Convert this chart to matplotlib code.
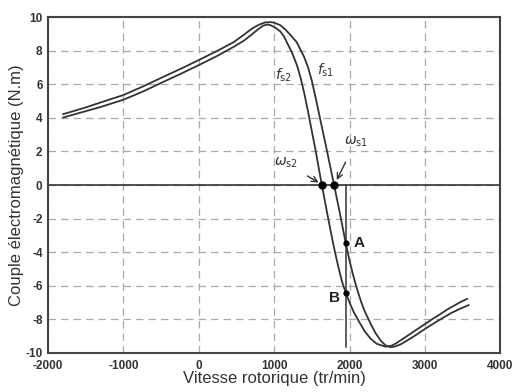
import matplotlib
matplotlib.use("Agg")
import matplotlib.pyplot as plt

plt.rcParams['font.family'] = ['Liberation Sans', 'DejaVu Sans']
plt.rcParams['axes.unicode_minus'] = False

# courbe f_s1 (exterieure)
v_s1 = [-1800, -1500, -1300, -1000, -750, -500, -250, 0, 250, 460, 600, 700, 800, 880,
        950, 1000, 1080, 1150, 1213, 1300, 1350, 1400, 1450, 1500, 1550, 1600, 1700,
        1795, 1875, 1950, 2000, 2050, 2100, 2150, 2200, 2290, 2350, 2420, 2480, 2540,
        2600, 2680, 2750, 2850, 2950, 3050, 3150, 3250, 3350, 3450, 3580]
c_s1 = [4.22, 4.62, 4.92, 5.36, 5.85, 6.38, 6.9, 7.44, 8.0, 8.5, 8.95, 9.3, 9.55, 9.68,
        9.70, 9.66, 9.52, 9.25, 8.95, 8.5, 8.05, 7.6, 7.0, 6.2, 5.2, 4.15, 2.05,
        0.0, -1.75, -3.47, -4.5, -5.4, -6.2, -6.9, -7.5, -8.35, -8.85, -9.3, -9.55, -9.65,
        -9.62, -9.48, -9.3, -9.02, -8.72, -8.43, -8.15, -7.88, -7.62, -7.4, -7.15]

# courbe f_s2 (interieure)
v_s2 = [-1800, -1500, -1300, -1000, -750, -500, -250, 0, 250, 460, 600, 700, 780, 850,
        910, 960, 1020, 1080, 1130, 1168, 1235, 1301, 1350, 1400, 1450, 1500, 1550,
        1600, 1633, 1700, 1750, 1800, 1850, 1900, 1950, 2000, 2060, 2135, 2200, 2280,
        2360, 2474, 2550, 2620, 2700, 2800, 2900, 3000, 3100, 3200, 3300, 3400, 3480, 3560]
c_s2 = [4.02, 4.4, 4.65, 5.08, 5.55, 6.08, 6.6, 7.14, 7.7, 8.22, 8.6, 8.95, 9.25, 9.48,
        9.56, 9.5, 9.35, 9.15, 8.85, 8.5, 7.9, 7.15, 6.4, 5.45, 4.35, 3.2, 2.05,
        0.8, 0.0, -1.6, -2.75, -3.85, -4.85, -5.75, -6.41, -7.0, -7.6, -8.2, -8.7, -9.15,
        -9.45, -9.62, -9.58, -9.42, -9.18, -8.88, -8.58, -8.28, -7.98, -7.7, -7.4, -7.15, -6.95, -6.78]

w_s = [1633, 1795]          # vitesses de synchronisme
v_AB = 1950
c_A, c_B = -3.47, -6.41

x_ticks = [-2000, -1000, 0, 1000, 2000, 3000, 4000]
y_ticks = [-10, -8, -6, -4, -2, 0, 2, 4, 6, 8, 10]

fig = plt.figure(figsize=(5.12, 3.92), dpi=100)
ax = fig.add_axes([0.094, 0.0995, 0.883, 0.857])

col = '#333333'
ax.plot(v_s1, c_s1, color=col, lw=1.3)
ax.plot(v_s2, c_s2, color=col, lw=1.3)
ax.axhline(0, color=col, lw=1.2)
ax.plot([v_AB, v_AB], [0, -9.65], color=col, lw=1.1)

ax.plot(w_s, [0, 0], 'o', color='black', ms=5)
ax.plot([v_AB, v_AB], [c_A, c_B], 'o', color='black', ms=3.5)

ax.text(2060, c_A, 'A', fontsize=11, fontweight='bold', va='center', color='#222222')
ax.text(1870, -6.7, 'B', fontsize=11, fontweight='bold', va='center', ha='right', color='#222222')

ax.text(1122, 6.55, r'$f_{\rm s2}$', fontsize=10, ha='center', va='center', color='#333333')
ax.text(1677, 6.85, r'$f_{\rm s1}$', fontsize=10, ha='center', va='center', color='#333333')

ax.annotate(r'$\omega_{\rm s2}$', xy=(1590, 0.15), xytext=(1150, 1.3), fontsize=10,
            ha='center', va='center', color='#333333',
            arrowprops=dict(arrowstyle='->', color='#333333', lw=1, shrinkA=6, shrinkB=0))
ax.annotate(r'$\omega_{\rm s1}$', xy=(1830, 0.3), xytext=(2080, 2.55), fontsize=10,
            ha='center', va='center', color='#333333',
            arrowprops=dict(arrowstyle='->', color='#333333', lw=1, shrinkA=8, shrinkB=0))

ax.set_xlim(-2000, 4000)
ax.set_ylim(-10, 10)
ax.set_xticks(x_ticks)
ax.set_yticks(y_ticks)
ax.tick_params(axis='x', length=0, labelsize=8.5, pad=5)
ax.tick_params(axis='y', length=0, labelsize=8.5, pad=4)
for lab in ax.get_xticklabels() + ax.get_yticklabels():
    lab.set_fontweight('bold')
    lab.set_color('#333333')
ax.grid(True, color='#aaaaaa', ls=(0, (6, 4)), lw=0.9)
for s in ax.spines.values():
    s.set_linewidth(1.5)
    s.set_color('#444444')

ax.set_xlabel('Vitesse rotorique (tr/min)', fontsize=12, labelpad=-1, color='#333333')
ax.set_ylabel('Couple électromagnétique (N.m)', fontsize=12, labelpad=1, color='#333333')

fig.savefig('out.png', dpi=100)
